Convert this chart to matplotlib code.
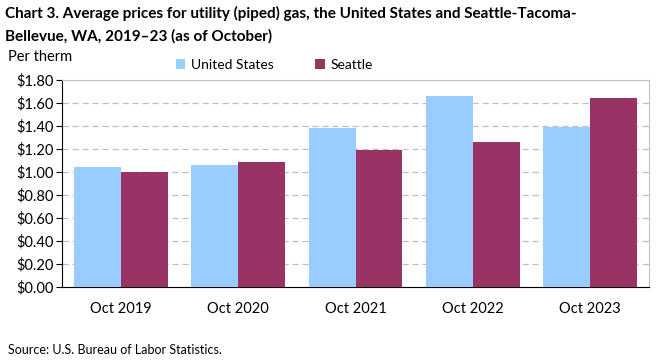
import numpy as np
import matplotlib.pyplot as plt

categories = ['Oct 2019', 'Oct 2020', 'Oct 2021', 'Oct 2022', 'Oct 2023']
usPrices = [1.04, 1.06, 1.38, 1.66, 1.39]
seattlePrices = [1.00, 1.09, 1.19, 1.26, 1.64]

plt.rcParams['font.family'] = ['Lato', 'DejaVu Sans']

fig = plt.figure(figsize=(6.61, 3.61), dpi=100)
ax = fig.add_axes([62/661, 1-287/361, 587/661, 207/361])

x = np.arange(len(categories))
w = 0.4
ax.bar(x - w/2, usPrices, w, color='#99ccff', label='United States', zorder=3)
ax.bar(x + w/2, seattlePrices, w, color='#993366', label='Seattle', zorder=3)

ax.set_xlim(-0.5, len(categories) - 0.5)
ax.set_ylim(0, 1.8)
ax.set_yticks(np.arange(0, 1.81, 0.2))
ax.set_yticklabels(['$%.2f' % v for v in np.arange(0, 1.81, 0.2)], fontsize=10.5)
ax.set_xticks(x)
ax.set_xticklabels(categories, fontsize=10.5)
ax.tick_params(axis='x', length=0, pad=11)
ax.tick_params(axis='y', length=4, direction='out', pad=2)
ax.yaxis.grid(True, color='#c0c0c0', linestyle=(0, (5, 3)), linewidth=0.9, zorder=0)

for s in ['top', 'right']:
    ax.spines[s].set_color('#bfbfbf')
for s in ['left', 'bottom']:
    ax.spines[s].set_color('black')

fig.text(5/661, 1-18/361, 'Chart 3. Average prices for utility (piped) gas, the United States and Seattle-Tacoma-',
         fontsize=11, fontweight='bold', va='baseline')
fig.text(5/661, 1-41/361, 'Bellevue, WA, 2019\u201323 (as of October)',
         fontsize=11, fontweight='bold', va='baseline')
fig.text(8/661, 1-61/361, 'Per therm', fontsize=10.5, va='baseline')
fig.legend(loc='center left', bbox_to_anchor=(163/661, 1-65/361), ncol=2, frameon=False,
           fontsize=10, handlelength=0.7, handleheight=0.7, columnspacing=3.0, handletextpad=0.4)
fig.text(8/661, 1-354/361, 'Source: U.S. Bureau of Labor Statistics.', fontsize=9, va='baseline')

fig.savefig('out.png', dpi=100)
